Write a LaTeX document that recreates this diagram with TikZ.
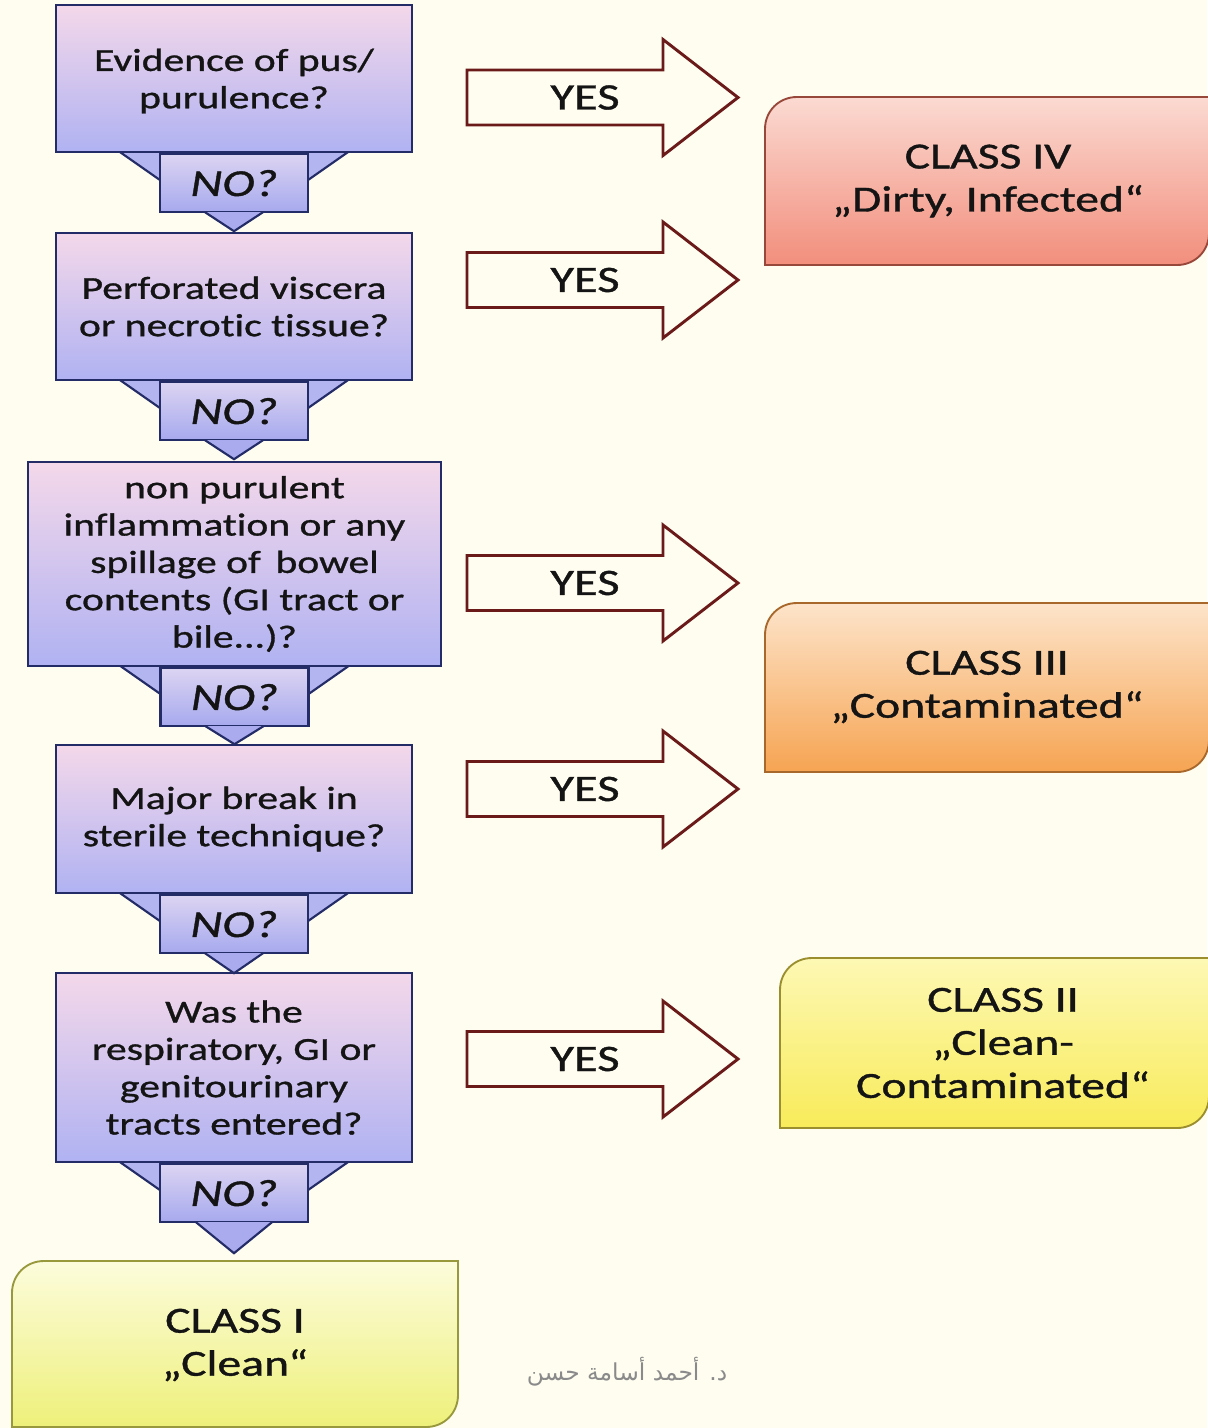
\documentclass[tikz,border=0pt]{standalone}
\usepackage{fontspec}
\setmainfont{Carlito}[FakeStretch=1.3,FakeBold=1,Ligatures={NoCommon}]
\newfontfamily\arabicfont[Script=Arabic]{DejaVu Sans}
\TeXXeTstate=1
\usetikzlibrary{calc}
\definecolor{bg}{HTML}{FFFDF0}
\definecolor{navyline}{HTML}{232C66}
\definecolor{qtop}{HTML}{F4D8EA}
\definecolor{qbot}{HTML}{B0B2F2}
\definecolor{ttop}{HTML}{DCD4F2}
\definecolor{tbot}{HTML}{A6A9EE}
\definecolor{wingc}{HTML}{B3B5F0}
\definecolor{tric}{HTML}{A9ABEE}
\definecolor{arrowc}{HTML}{6B1A1A}
\definecolor{txt}{HTML}{141414}
\definecolor{ivtop}{HTML}{FBDAD2}
\definecolor{ivbot}{HTML}{F28E7C}
\definecolor{ivline}{HTML}{98483A}
\definecolor{iiitop}{HTML}{FDE4CA}
\definecolor{iiibot}{HTML}{F6A452}
\definecolor{iiiline}{HTML}{A8682C}
\definecolor{iitop}{HTML}{FDF8B4}
\definecolor{iibot}{HTML}{F8EB5A}
\definecolor{iiline}{HTML}{9A8E2E}
\definecolor{itop}{HTML}{FCFCDC}
\definecolor{ibot}{HTML}{EEF07A}
\definecolor{iline}{HTML}{98983C}
\definecolor{sigc}{HTML}{8A8A8A}
\newcommand\myqfont{\fontsize{24}{28}\selectfont}
\newcommand\mynofont{\fontsize{28.5}{30}\selectfont\itshape}
\newcommand\myclsfont{\fontsize{27.5}{32.3}\selectfont}
\newcommand\myyesfont{\fontsize{28}{28}\selectfont}
\tikzset{
  qbox/.style={draw=navyline, line width=1.6pt, top color=qtop, bottom color=qbot,
    align=center, font=\myqfont, text=txt, inner sep=1pt, minimum width=267pt},
  notab/.style={draw=navyline, line width=1.6pt, top color=ttop, bottom color=tbot,
    minimum width=111pt, minimum height=43.5pt, anchor=north, font=\mynofont,
    text=txt, inner sep=0pt},
  wingfill/.style={fill=wingc},
  wingline/.style={draw=navyline, line width=1.6pt},
  trishape/.style={fill=tric, draw=navyline, line width=1.6pt, line join=miter},
  yesline/.style={draw=arrowc, line width=2.2pt, fill=bg, line join=miter},
  yestext/.style={font=\myyesfont, text=txt, inner sep=0pt},
  clstext/.style={font=\myclsfont, text=txt, align=center, inner sep=0pt},
  sigtext/.style={font=\arabicfont\fontsize{17.5}{20}\selectfont, text=sigc, inner sep=0pt}
}
% #1 box node, #2 tab node name, #3 triangle half width, #4 triangle height
\newcommand\noconnector[4]{%
  \fill[wingfill] ($(#1.south)+(-114,0)$) -- ($(#1.south)+(114,0)$)
     -- ($(#1.south)+(74,27)$) -- ($(#1.south)+(-74,27)$) -- cycle;
  \draw[wingline] ($(#1.south)+(-114,-1)$) -- ($(#1.south)+(-74,27)$);
  \draw[wingline] ($(#1.south)+(114,-1)$) -- ($(#1.south)+(74,27)$);
  \node[notab] (#2) at (#1.south) {NO?};
  \filldraw[trishape] ($(#2.south)+(-#3,-1)$) -- ($(#2.south)+(0,#4)$) -- ($(#2.south)+(#3,-1)$);
}
% #1 name, #2 centre y
\newcommand\yesarrow[2]{%
  \begin{scope}[shift={(0,#2)}]
  \draw[yesline] (467,-27.5) -- (663,-27.5) -- (663,-58) -- (738,0)
     -- (663,58) -- (663,27.5) -- (467,27.5) -- cycle;
  \end{scope}
  \node[yestext] (#1) at (585,#2) {YES};
}
% #1 x1, #2 y1, #3 x2, #4 y2, #5 top, #6 bottom, #7 line
\newcommand\classshape[7]{%
  \shade[top color=#5, bottom color=#6, draw=#7, line width=1.4pt]
    (#1,#4) -- (#1,{#2+32}) .. controls (#1,{#2+14}) and ({#1+14},#2) .. ({#1+32},#2)
    -- (#3,#2) -- (#3,{#4-32}) .. controls (#3,{#4-14}) and ({#3-14},#4) .. ({#3-32},#4)
    -- cycle;
}
\begin{document}
\begin{tikzpicture}[x=0.75pt,y=-0.75pt]
\fill[bg] (0,0) rectangle (1207,1428);
\useasboundingbox (0,0) rectangle (1207,1428);

% question boxes
\node[qbox, minimum height=110.25pt, text depth=-3pt] (q1) at (234,78.5) {Evidence of pus/\\purulence?};
\node[qbox, minimum height=110.25pt] (q2) at (234,306.5) {Perforated viscera\\or necrotic tissue?};
\node[qbox, minimum width=309.75pt, minimum height=153pt] (q3) at (234.5,564)
   {non purulent\\inflammation or any\\spillage of\, bowel\\contents (GI tract or\\bile...)?};
\node[qbox, minimum height=111pt] (q4) at (234,819) {Major break in\\sterile technique?};
\node[qbox, minimum height=141.75pt] (q5) at (234,1067.5)
   {Was the\\respiratory, GI or\\genitourinary\\tracts entered?};

\noconnector{q1}{n1}{29}{18}
\noconnector{q2}{n2}{29}{18}
\noconnector{q3}{n3}{29}{17}
\noconnector{q4}{n4}{29}{19}
\noconnector{q5}{n5}{38}{30}

% YES arrows
\yesarrow{y1}{97.5}
\yesarrow{y2}{280}
\yesarrow{y3}{583}
\yesarrow{y4}{789}
\yesarrow{y5}{1059}

% class boxes
\classshape{765}{97}{1209}{265}{ivtop}{ivbot}{ivline}
\node[clstext] (c4) at (988,181) {CLASS IV\\„Dirty, Infected“};
\classshape{765}{603}{1209}{772}{iiitop}{iiibot}{iiiline}
\node[clstext] (c3) at (987,687) {CLASS III\\„Contaminated“};
\classshape{780}{958}{1209}{1128}{iitop}{iibot}{iiline}
\node[clstext] (c2) at (1003,1043) {CLASS II\\„Clean-\\Contaminated“};
\classshape{12}{1261}{458}{1427}{itop}{ibot}{iline}
\node[clstext] (c1) at (235,1345) {CLASS I\\„Clean“};

\node[sigtext] (sig) at (627,1372) {\beginR د. أحمد أسامة حسن\endR};
\end{tikzpicture}
\end{document}
